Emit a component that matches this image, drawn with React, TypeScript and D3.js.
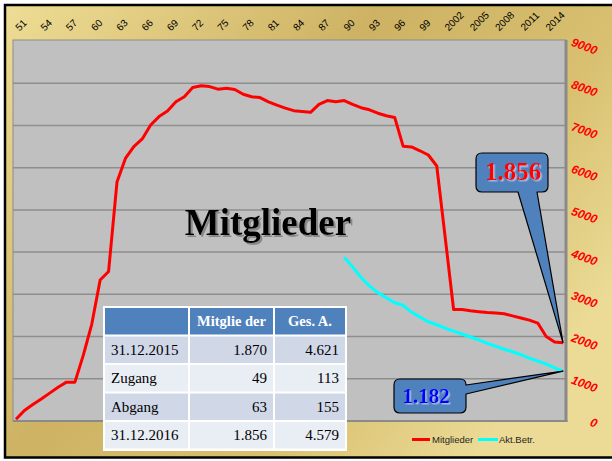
import React from 'react';
import * as d3 from 'd3';

const years = [
  1951, 1952, 1953, 1954, 1955, 1956, 1957, 1958, 1959, 1960,
  1961, 1962, 1963, 1964, 1965, 1966, 1967, 1968, 1969, 1970,
  1971, 1972, 1973, 1974, 1975, 1976, 1977, 1978, 1979, 1980,
  1981, 1982, 1983, 1984, 1985, 1986, 1987, 1988, 1989, 1990,
  1991, 1992, 1993, 1994, 1995, 1996, 1997, 1998, 1999, 2000,
  2001, 2002, 2003, 2004, 2005, 2006, 2007, 2008, 2009, 2010,
  2011, 2012, 2013, 2014, 2015, 2016,
];

const mitglieder = [
  40, 250, 390, 520, 660, 800, 920, 920, 1560, 2290,
  3340, 3540, 5660, 6220, 6500, 6680, 7010, 7210, 7340, 7560,
  7680, 7900, 7940, 7920, 7860, 7880, 7850, 7740, 7680, 7660,
  7560, 7480, 7410, 7350, 7330, 7310, 7500, 7590, 7560, 7590,
  7500, 7420, 7370, 7290, 7230, 7190, 6510, 6490, 6400, 6300,
  6040, 4350, 2640, 2640, 2610, 2590, 2570, 2560, 2540, 2490,
  2440, 2390, 2320, 2000, 1870, 1856,
];

const aktYears = [
  1990, 1991, 1992, 1993, 1994, 1995, 1996, 1997, 1998, 1999,
  2000, 2001, 2002, 2003, 2004, 2005, 2006, 2007, 2008, 2009,
  2010, 2011, 2012, 2013, 2014, 2015, 2016,
];
const aktBetr = [
  3880, 3650, 3400, 3200, 3040, 2920, 2800, 2740, 2580, 2460,
  2350, 2280, 2200, 2130, 2060, 1990, 1920, 1840, 1770, 1700,
  1640, 1570, 1490, 1420, 1350, 1260, 1182,
];

const xTickYears = [1951, 1954, 1957, 1960, 1963, 1966, 1969, 1972, 1975, 1978, 1981, 1984, 1987, 1990, 1993, 1996, 1999, 2002, 2005, 2008, 2011, 2014];
const xTickLabels = ['51', '54', '57', '60', '63', '66', '69', '72', '75', '78', '81', '84', '87', '90', '93', '96', '99', '2002', '2005', '2008', '2011', '2014'];
const yTicks = [0, 1000, 2000, 3000, 4000, 5000, 6000, 7000, 8000, 9000];

const tableHeader = ['', 'Mitglie der', 'Ges. A.'];
const tableLabels = ['31.12.2015', 'Zugang', 'Abgang', '31.12.2016'];
const tableMitglieder = ['1.870', '49', '63', '1.856'];
const tableGesA = ['4.621', '113', '155', '4.579'];

const calloutMitglieder = '1.856';
const calloutAkt = '1.182';
const seriesNames = ['Mitglieder', 'Akt.Betr.'];

const SERIF = '"Liberation Serif", "Times New Roman", serif';
const SANS = '"Liberation Sans", Arial, sans-serif';

export default function App() {
  const plot = { l: 13, t: 40, r: 566, b: 421 };
  const x = d3.scalePoint<number>().domain(years).range([16, 563]);
  const y = d3.scaleLinear().domain([0, 9000]).range([421, 41]);

  const line = d3
    .line<[number, number]>()
    .x((d) => x(d[0]) as number)
    .y((d) => y(d[1]));

  const redPath = line(years.map((yr, i) => [yr, mitglieder[i]] as [number, number])) || '';
  const cyanPath = line(aktYears.map((yr, i) => [yr, aktBetr[i]] as [number, number])) || '';

  const lastYear = years[years.length - 1];
  const tip1x = x(lastYear) as number;
  const tip1y = y(mitglieder[mitglieder.length - 1]);
  const tip2x = x(aktYears[aktYears.length - 1]) as number;
  const tip2y = y(aktBetr[aktBetr.length - 1]);

  const b1 = { L: 476, T: 153, R: 548, B: 192, r: 6 };
  const c1 = `M${b1.L + b1.r},${b1.T} H${b1.R - b1.r} Q${b1.R},${b1.T} ${b1.R},${b1.T + b1.r} V${b1.B - b1.r} Q${b1.R},${b1.B} ${b1.R - b1.r},${b1.B} H537 L${tip1x},${tip1y} L518,${b1.B} H${b1.L + b1.r} Q${b1.L},${b1.B} ${b1.L},${b1.B - b1.r} V${b1.T + b1.r} Q${b1.L},${b1.T} ${b1.L + b1.r},${b1.T} Z`;
  const b2 = { L: 394, T: 379, R: 466, B: 413, r: 6 };
  const c2 = `M${b2.L + b2.r},${b2.T} H${b2.R - b2.r} Q${b2.R},${b2.T} ${b2.R},${b2.T + b2.r} V385 L${tip2x},${tip2y} L${b2.R},394 V${b2.B - b2.r} Q${b2.R},${b2.B} ${b2.R - b2.r},${b2.B} H${b2.L + b2.r} Q${b2.L},${b2.B} ${b2.L},${b2.B - b2.r} V${b2.T + b2.r} Q${b2.L},${b2.T} ${b2.L + b2.r},${b2.T} Z`;

  const colX = [105, 190, 275];
  const colW = [83, 83, 70];
  const rowTop = (i: number) => 308 + i * 28.5;
  const rowH = 26.5;
  const rowFill = ['#4f81bd', '#d0d8e8', '#e9edf4', '#d0d8e8', '#e9edf4'];

  const theta = 20;
  const rad = (theta * Math.PI) / 180;
  const topRad = (45 * Math.PI) / 180;

  return (
    <svg width={612} height={461} style={{ position: 'absolute', left: 0, top: 0 }} xmlns="http://www.w3.org/2000/svg">
      <defs>
        <linearGradient id="gold" x1="0" y1="0" x2="1" y2="0.6">
          <stop offset="0" stopColor="#eedd95" />
          <stop offset="0.45" stopColor="#cdb263" />
          <stop offset="0.75" stopColor="#d8c070" />
          <stop offset="1" stopColor="#ebdb96" />
        </linearGradient>
        <filter id="shadowGray" x="-10%" y="-10%" width="130%" height="140%">
          <feDropShadow dx="2" dy="2" stdDeviation="0.6" floodColor="#6f6f6f" floodOpacity="0.7" />
        </filter>
        <filter id="shadowBlue" x="-10%" y="-10%" width="130%" height="140%">
          <feDropShadow dx="1.5" dy="1.5" stdDeviation="0.4" floodColor="#a9bcdc" floodOpacity="1" />
        </filter>
      </defs>
      <rect x={0} y={0} width={612} height={461} fill="#ffffff" />
      <rect x={5} y={5} width={620} height={452.5} fill="url(#gold)" stroke="#000" strokeWidth={2.5} />

      {/* plot area */}
      <rect x={plot.l} y={plot.t} width={plot.r - plot.l} height={plot.b - plot.t} fill="#c0c0c0" stroke="#8c8c8c" strokeWidth={1} />
      {yTicks.slice(1, -1).map((v) => (
        <line key={v} x1={plot.l} x2={plot.r} y1={y(v)} y2={y(v)} stroke="#8e8e8e" strokeWidth={1.5} />
      ))}
      <line x1={plot.r} x2={plot.r} y1={plot.t} y2={plot.b + 1} stroke="#8a8a8a" strokeWidth={3} />
      <line x1={plot.l} x2={plot.r + 1.5} y1={plot.b} y2={plot.b} stroke="#8a8a8a" strokeWidth={2} />

      {/* series */}
      <path d={redPath} fill="none" stroke="#ff0000" strokeWidth={3} strokeLinejoin="round" />
      <path d={cyanPath} fill="none" stroke="#00ffff" strokeWidth={3} strokeLinejoin="round" />

      {/* title */}
      <text x={268} y={235} textAnchor="middle" fontFamily={SERIF} fontWeight="bold" fontSize={37} fill="#000" filter="url(#shadowGray)">Mitglieder</text>

      {/* table */}
      <rect x={103} y={306} width={244} height={145} fill="#ffffff" />
      {[0, 1, 2, 3, 4].map((r) =>
        [0, 1, 2].map((c) => (
          <rect key={`${r}-${c}`} x={colX[c]} y={rowTop(r)} width={colW[c]} height={rowH} fill={rowFill[r]} />
        ))
      )}
      {tableHeader.map((h, c) =>
        h ? (
          <text key={h} x={colX[c] + colW[c] / 2} y={rowTop(0) + rowH / 2 + 5} textAnchor="middle" fontFamily={SERIF} fontWeight="bold" fontSize={14.5} fill="#ffffff">{h}</text>
        ) : null
      )}
      {tableLabels.map((lab, i) => (
        <g key={lab} fontFamily={SERIF} fontSize={15} fill="#000">
          <text x={colX[0] + 6} y={rowTop(i + 1) + rowH / 2 + 5}>{lab}</text>
          <text x={colX[1] + colW[1] - 6} y={rowTop(i + 1) + rowH / 2 + 5} textAnchor="end">{tableMitglieder[i]}</text>
          <text x={colX[2] + colW[2] - 6} y={rowTop(i + 1) + rowH / 2 + 5} textAnchor="end">{tableGesA[i]}</text>
        </g>
      ))}

      {/* callouts */}
      <path d={c1} fill="#4f81bd" stroke="#000" strokeWidth={1.2} strokeLinejoin="round" />
      <text x={513} y={180} textAnchor="middle" fontFamily={SERIF} fontWeight="bold" fontSize={25} fill="#ff0000" filter="url(#shadowBlue)">{calloutMitglieder}</text>
      <path d={c2} fill="#4f81bd" stroke="#000" strokeWidth={1.2} strokeLinejoin="round" />
      <text x={426} y={403.3} textAnchor="middle" fontFamily={SERIF} fontWeight="bold" fontSize={21} fill="#0000ff" filter="url(#shadowBlue)">{calloutAkt}</text>

      {/* legend */}
      <line x1={412} x2={430} y1={439.5} y2={439.5} stroke="#ff0000" strokeWidth={3} />
      <text x={432} y={443} fontFamily={SANS} fontSize={9.5} fill="#1f1f1f">{seriesNames[0]}</text>
      <line x1={478} x2={498} y1={439.5} y2={439.5} stroke="#00ffff" strokeWidth={3} />
      <text x={499} y={443} fontFamily={SANS} fontSize={9.5} fill="#1f1f1f">{seriesNames[1]}</text>

      {/* top axis labels, rotated -45 about their centre */}
      {xTickYears.map((yr, i) => {
        const w = xTickLabels[i].length * 5.56;
        const sx = (x(yr) as number) + 1;
        const sy = 29;
        const cx = sx + (w / 2) * Math.cos(topRad);
        const cy = sy - (w / 2) * Math.sin(topRad);
        return (
          <text key={yr} x={cx} y={cy + 3.5} textAnchor="middle" transform={`rotate(-45 ${cx} ${cy})`} fontFamily={SANS} fontSize={10} fill="#000">
            {xTickLabels[i]}
          </text>
        );
      })}

      {/* right axis labels, rotated 20 about their centre */}
      {yTicks.map((v) => {
        const w = String(v).length * 6.67;
        const x0 = 597 - w * Math.cos(rad);
        const y0 = y(v) + 0.5;
        const cx = x0 + (w / 2) * Math.cos(rad);
        const cy = y0 + (w / 2) * Math.sin(rad);
        return (
          <text key={v} x={cx} y={cy + 4.3} textAnchor="middle" transform={`rotate(${theta} ${cx} ${cy})`} fontFamily={SANS} fontWeight="bold" fontStyle="italic" fontSize={12} fill="#ff0000">
            {v}
          </text>
        );
      })}
    </svg>
  );
}
